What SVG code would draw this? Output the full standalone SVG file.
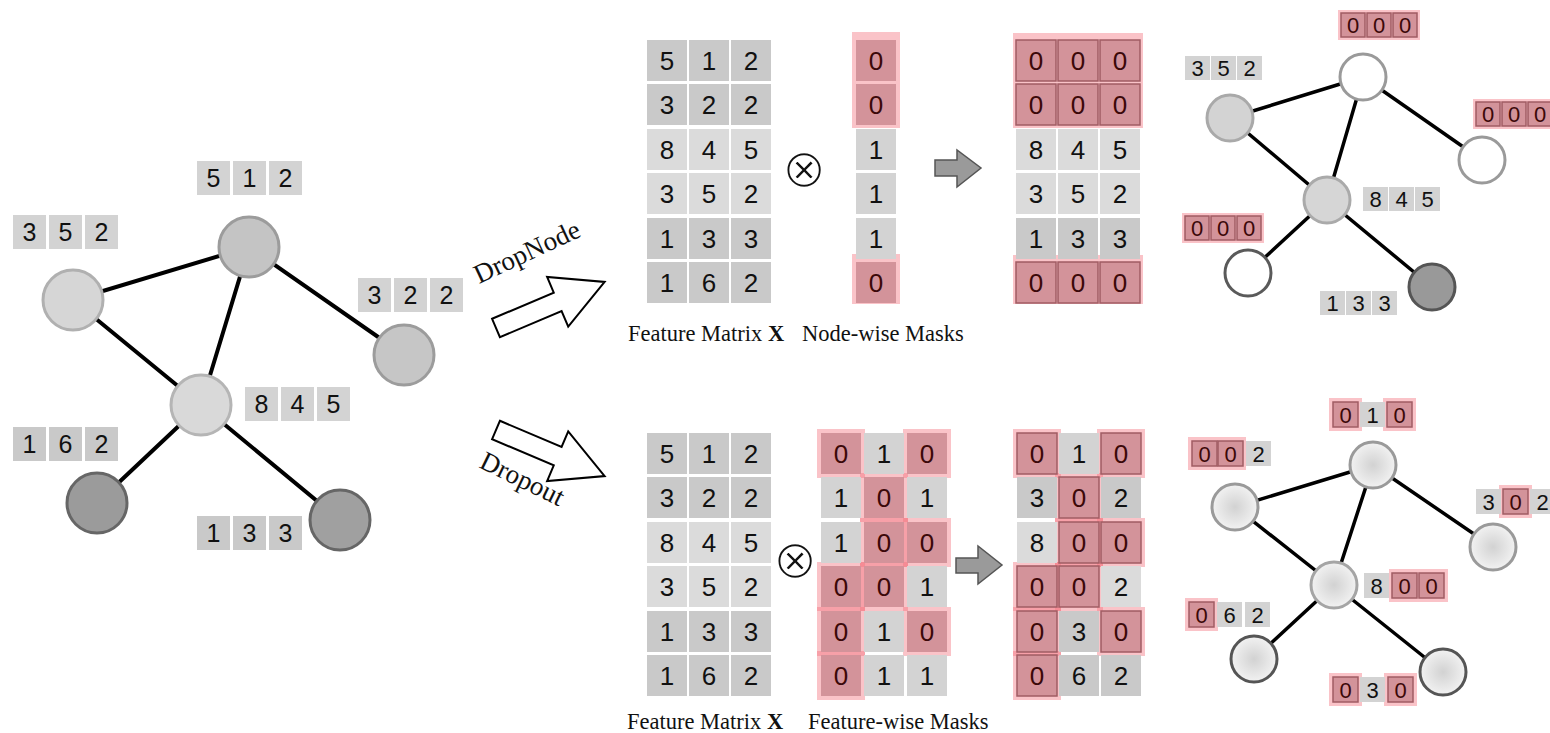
<svg xmlns="http://www.w3.org/2000/svg" width="1550" height="733" viewBox="0 0 1550 733">
  <style>
    .c1{fill:#c9c9c9}
    .c2{fill:#dbdbdb}
    .c3{fill:#d3d3d3}
    .rm{fill:#d3939a}
    .ro{fill:#d3939a;stroke:#a05c63;stroke-width:1.5}
    .halo{fill:#f4707c;fill-opacity:.42}
    .t{font-family:"Liberation Sans",Arial,sans-serif;text-anchor:middle;dominant-baseline:central;fill:#111}
    .m{font-size:26px}
    .L{font-size:25px}
    .s{font-size:22px}
    .z{fill:#3b0808}
    .edge{stroke:#000;stroke-width:4;stroke-linecap:round}
    .edge2{stroke:#000;stroke-width:3.5;stroke-linecap:round}
    .cap{font-family:"Liberation Serif","Times New Roman",serif;font-size:22.5px;fill:#111}
    .big{font-family:"Liberation Serif","Times New Roman",serif;font-size:27px;fill:#111}
    .hollow{fill:#fff;stroke:#000;stroke-width:2;stroke-linejoin:miter}
    .step{fill:#9a9a9a;stroke:#555;stroke-width:1.5}
    .otimes{font-family:"DejaVu Sans",sans-serif;font-size:54px;text-anchor:middle;dominant-baseline:central;fill:#111;stroke:#fff;stroke-width:2}
  </style>
  <defs>
    <radialGradient id="soft" cx="50%" cy="50%" r="50%">
      <stop offset="0" stop-color="#d2d2d2"/>
      <stop offset="1" stop-color="#f2f2f2"/>
    </radialGradient>
    <polygon id="bigArrow" points="0,-10 67,-10 67,-27 118,0 67,27 67,10 0,10"/>
  </defs>
  <rect width="1550" height="733" fill="#fff"/>

  <!-- ===== input graph ===== -->
  <g id="edges-in">
    <line class="edge" x1="73" y1="300" x2="249" y2="247"/>
    <line class="edge" x1="73" y1="300" x2="201" y2="405"/>
    <line class="edge" x1="249" y1="247" x2="201" y2="405"/>
    <line class="edge" x1="249" y1="247" x2="404" y2="355"/>
    <line class="edge" x1="201" y1="405" x2="97" y2="503"/>
    <line class="edge" x1="201" y1="405" x2="340" y2="520"/>
  </g>
  <g id="in-n1"><circle cx="73" cy="300" r="30" fill="#d6d6d6" stroke="#b0b0b0" stroke-width="3"/></g>
  <g id="in-n2"><circle cx="249" cy="247" r="30" fill="#c4c4c4" stroke="#9c9c9c" stroke-width="3"/></g>
  <g id="in-n3"><circle cx="404" cy="355" r="30" fill="#c6c6c6" stroke="#9c9c9c" stroke-width="3"/></g>
  <g id="in-n4"><circle cx="201" cy="405" r="30" fill="#d9d9d9" stroke="#b5b5b5" stroke-width="3"/></g>
  <g id="in-n5"><circle cx="97" cy="503" r="30" fill="#9b9b9b" stroke="#666" stroke-width="3"/></g>
  <g id="in-n6"><circle cx="340" cy="520" r="30" fill="#a0a0a0" stroke="#666" stroke-width="3"/></g>

  <g id="in-feat-1" transform="translate(197,161)">
    <rect class="c3" x="0" width="33" height="34"/><rect class="c3" x="36" width="33" height="34"/><rect class="c3" x="72" width="33" height="34"/>
    <text class="t L" x="16.5" y="17">5</text><text class="t L" x="52.5" y="17">1</text><text class="t L" x="88.5" y="17">2</text>
  </g>
  <g id="in-feat-2" transform="translate(13,215)">
    <rect class="c3" x="0" width="33" height="34"/><rect class="c3" x="36" width="33" height="34"/><rect class="c3" x="72" width="33" height="34"/>
    <text class="t L" x="16.5" y="17">3</text><text class="t L" x="52.5" y="17">5</text><text class="t L" x="88.5" y="17">2</text>
  </g>
  <g id="in-feat-3" transform="translate(358,278)">
    <rect class="c3" x="0" width="33" height="34"/><rect class="c3" x="36" width="33" height="34"/><rect class="c3" x="72" width="33" height="34"/>
    <text class="t L" x="16.5" y="17">3</text><text class="t L" x="52.5" y="17">2</text><text class="t L" x="88.5" y="17">2</text>
  </g>
  <g id="in-feat-4" transform="translate(245,387)">
    <rect class="c3" x="0" width="33" height="34"/><rect class="c3" x="36" width="33" height="34"/><rect class="c3" x="72" width="33" height="34"/>
    <text class="t L" x="16.5" y="17">8</text><text class="t L" x="52.5" y="17">4</text><text class="t L" x="88.5" y="17">5</text>
  </g>
  <g id="in-feat-5" transform="translate(13,427)">
    <rect class="c1" x="0" width="33" height="34"/><rect class="c1" x="36" width="33" height="34"/><rect class="c1" x="72" width="33" height="34"/>
    <text class="t L" x="16.5" y="17">1</text><text class="t L" x="52.5" y="17">6</text><text class="t L" x="88.5" y="17">2</text>
  </g>
  <g id="in-feat-6" transform="translate(197,516)">
    <rect class="c1" x="0" width="33" height="34"/><rect class="c1" x="36" width="33" height="34"/><rect class="c1" x="72" width="33" height="34"/>
    <text class="t L" x="16.5" y="17">1</text><text class="t L" x="52.5" y="17">3</text><text class="t L" x="88.5" y="17">3</text>
  </g>

  <!-- ===== branch arrows ===== -->
  <g id="arrow-dropnode">
    <use href="#bigArrow" class="hollow" transform="translate(496,328) rotate(-23)"/>
    <text class="big" transform="translate(479,284) rotate(-25)">DropNode</text>
  </g>
  <g id="arrow-dropout">
    <use href="#bigArrow" class="hollow" transform="translate(496,430) rotate(23)"/>
    <text class="big" transform="translate(478,467) rotate(26)">Dropout</text>
  </g>

  <!-- ===== DropNode row ===== -->
  <g id="top-feature-matrix" transform="translate(647,40)">
    <rect class="c1" x="0" y="0" width="40" height="41"/><rect class="c1" x="42" y="0" width="40" height="41"/><rect class="c1" x="84" y="0" width="40" height="41"/>
    <rect class="c1" x="0" y="44" width="40" height="41"/><rect class="c1" x="42" y="44" width="40" height="41"/><rect class="c1" x="84" y="44" width="40" height="41"/>
    <rect class="c2" x="0" y="89" width="40" height="41"/><rect class="c2" x="42" y="89" width="40" height="41"/><rect class="c2" x="84" y="89" width="40" height="41"/>
    <rect class="c2" x="0" y="133" width="40" height="41"/><rect class="c2" x="42" y="133" width="40" height="41"/><rect class="c2" x="84" y="133" width="40" height="41"/>
    <rect class="c1" x="0" y="178" width="40" height="41"/><rect class="c1" x="42" y="178" width="40" height="41"/><rect class="c1" x="84" y="178" width="40" height="41"/>
    <rect class="c1" x="0" y="222" width="40" height="41"/><rect class="c1" x="42" y="222" width="40" height="41"/><rect class="c1" x="84" y="222" width="40" height="41"/>
    <text class="t m" x="20" y="21">5</text><text class="t m" x="62" y="21">1</text><text class="t m" x="104" y="21">2</text>
    <text class="t m" x="20" y="65">3</text><text class="t m" x="62" y="65">2</text><text class="t m" x="104" y="65">2</text>
    <text class="t m" x="20" y="110">8</text><text class="t m" x="62" y="110">4</text><text class="t m" x="104" y="110">5</text>
    <text class="t m" x="20" y="154">3</text><text class="t m" x="62" y="154">5</text><text class="t m" x="104" y="154">2</text>
    <text class="t m" x="20" y="199">1</text><text class="t m" x="62" y="199">3</text><text class="t m" x="104" y="199">3</text>
    <text class="t m" x="20" y="243">1</text><text class="t m" x="62" y="243">6</text><text class="t m" x="104" y="243">2</text>
  </g>
  <g id="top-otimes"><text class="otimes" x="804" y="168">⊗</text></g>
  <g id="node-mask" transform="translate(856,40)">
    <rect class="halo" x="-4" y="-8" width="48" height="96"/>
    <rect class="halo" x="-4" y="214" width="48" height="50"/>
    <rect class="rm" x="0" y="0" width="40" height="41"/>
    <rect class="rm" x="0" y="44" width="40" height="41"/>
    <rect class="c3" x="0" y="89" width="40" height="41"/>
    <rect class="c3" x="0" y="133" width="40" height="41"/>
    <rect class="c3" x="0" y="178" width="40" height="41"/>
    <rect class="rm" x="0" y="222" width="40" height="41"/>
    <text class="t m z" x="20" y="21">0</text>
    <text class="t m z" x="20" y="65">0</text>
    <text class="t m" x="20" y="110">1</text>
    <text class="t m" x="20" y="154">1</text>
    <text class="t m" x="20" y="199">1</text>
    <text class="t m z" x="20" y="243">0</text>
  </g>
  <g id="top-step"><polygon class="step" points="935,160 957,160 957,150 981,168 957,187 957,176 935,176"/></g>
  <g id="top-result" transform="translate(1016,40)">
    <rect class="halo" x="-3" y="-7" width="130" height="95"/>
    <rect class="halo" x="-3" y="215" width="130" height="49"/>
    <rect class="ro" x="0" y="0" width="40" height="41"/><rect class="ro" x="42" y="0" width="40" height="41"/><rect class="ro" x="84" y="0" width="40" height="41"/>
    <rect class="ro" x="0" y="44" width="40" height="41"/><rect class="ro" x="42" y="44" width="40" height="41"/><rect class="ro" x="84" y="44" width="40" height="41"/>
    <rect class="c2" x="0" y="89" width="40" height="41"/><rect class="c2" x="42" y="89" width="40" height="41"/><rect class="c2" x="84" y="89" width="40" height="41"/>
    <rect class="c2" x="0" y="133" width="40" height="41"/><rect class="c2" x="42" y="133" width="40" height="41"/><rect class="c2" x="84" y="133" width="40" height="41"/>
    <rect class="c1" x="0" y="178" width="40" height="41"/><rect class="c1" x="42" y="178" width="40" height="41"/><rect class="c1" x="84" y="178" width="40" height="41"/>
    <rect class="ro" x="0" y="222" width="40" height="41"/><rect class="ro" x="42" y="222" width="40" height="41"/><rect class="ro" x="84" y="222" width="40" height="41"/>
    <text class="t m z" x="20" y="21">0</text><text class="t m z" x="62" y="21">0</text><text class="t m z" x="104" y="21">0</text>
    <text class="t m z" x="20" y="65">0</text><text class="t m z" x="62" y="65">0</text><text class="t m z" x="104" y="65">0</text>
    <text class="t m" x="20" y="110">8</text><text class="t m" x="62" y="110">4</text><text class="t m" x="104" y="110">5</text>
    <text class="t m" x="20" y="154">3</text><text class="t m" x="62" y="154">5</text><text class="t m" x="104" y="154">2</text>
    <text class="t m" x="20" y="199">1</text><text class="t m" x="62" y="199">3</text><text class="t m" x="104" y="199">3</text>
    <text class="t m z" x="20" y="243">0</text><text class="t m z" x="62" y="243">0</text><text class="t m z" x="104" y="243">0</text>
  </g>
  <g id="top-captions">
    <text class="cap" x="628" y="341">Feature Matrix <tspan font-weight="bold">X</tspan></text>
    <text class="cap" x="802" y="341">Node-wise Masks</text>
  </g>

  <!-- DropNode output graph -->
  <g id="edges-dropnode">
    <line class="edge2" x1="1230" y1="118" x2="1363" y2="77"/>
    <line class="edge2" x1="1230" y1="118" x2="1327" y2="200"/>
    <line class="edge2" x1="1363" y1="77" x2="1327" y2="200"/>
    <line class="edge2" x1="1363" y1="77" x2="1482" y2="160"/>
    <line class="edge2" x1="1327" y1="200" x2="1248" y2="273"/>
    <line class="edge2" x1="1327" y1="200" x2="1432" y2="287"/>
  </g>
  <g id="dn-n1"><circle cx="1230" cy="118" r="23" fill="#d3d3d3" stroke="#a9a9a9" stroke-width="3"/></g>
  <g id="dn-n2"><circle cx="1363" cy="77" r="23" fill="#fff" stroke="#9a9a9a" stroke-width="3"/></g>
  <g id="dn-n3"><circle cx="1482" cy="160" r="23" fill="#fff" stroke="#9a9a9a" stroke-width="3"/></g>
  <g id="dn-n4"><circle cx="1327" cy="200" r="23" fill="#d6d6d6" stroke="#aaa" stroke-width="3"/></g>
  <g id="dn-n5"><circle cx="1248" cy="273" r="23" fill="#fff" stroke="#5a5a5a" stroke-width="3"/></g>
  <g id="dn-n6"><circle cx="1432" cy="287" r="23" fill="#999" stroke="#555" stroke-width="3"/></g>

  <g id="dn-feat-1" transform="translate(1341,13)">
    <rect class="halo" x="-3" y="-3" width="82" height="30"/>
    <rect class="ro" x="0" width="24" height="24"/><rect class="ro" x="26" width="24" height="24"/><rect class="ro" x="52" width="24" height="24"/>
    <text class="t s z" x="12" y="12.5">0</text><text class="t s z" x="38" y="12.5">0</text><text class="t s z" x="64" y="12.5">0</text>
  </g>
  <g id="dn-feat-2" transform="translate(1185,56)">
    <rect class="c3" x="0" width="25" height="24"/><rect class="c3" x="26" width="25" height="24"/><rect class="c3" x="52" width="25" height="24"/>
    <text class="t s" x="12.5" y="12.5">3</text><text class="t s" x="38.5" y="12.5">5</text><text class="t s" x="64.5" y="12.5">2</text>
  </g>
  <g id="dn-feat-3" transform="translate(1476,102)">
    <rect class="halo" x="-3" y="-3" width="82" height="30"/>
    <rect class="ro" x="0" width="24" height="24"/><rect class="ro" x="26" width="24" height="24"/><rect class="ro" x="52" width="24" height="24"/>
    <text class="t s z" x="12" y="12.5">0</text><text class="t s z" x="38" y="12.5">0</text><text class="t s z" x="64" y="12.5">0</text>
  </g>
  <g id="dn-feat-4" transform="translate(1363,187)">
    <rect class="c3" x="0" width="25" height="24"/><rect class="c3" x="26" width="25" height="24"/><rect class="c3" x="52" width="25" height="24"/>
    <text class="t s" x="12.5" y="12.5">8</text><text class="t s" x="38.5" y="12.5">4</text><text class="t s" x="64.5" y="12.5">5</text>
  </g>
  <g id="dn-feat-5" transform="translate(1185,216)">
    <rect class="halo" x="-3" y="-3" width="82" height="30"/>
    <rect class="ro" x="0" width="24" height="24"/><rect class="ro" x="26" width="24" height="24"/><rect class="ro" x="52" width="24" height="24"/>
    <text class="t s z" x="12" y="12.5">0</text><text class="t s z" x="38" y="12.5">0</text><text class="t s z" x="64" y="12.5">0</text>
  </g>
  <g id="dn-feat-6" transform="translate(1320,291)">
    <rect class="c3" x="0" width="25" height="24"/><rect class="c3" x="26" width="25" height="24"/><rect class="c3" x="52" width="25" height="24"/>
    <text class="t s" x="12.5" y="12.5">1</text><text class="t s" x="38.5" y="12.5">3</text><text class="t s" x="64.5" y="12.5">3</text>
  </g>

  <!-- ===== Dropout row ===== -->
  <g id="bottom-feature-matrix" transform="translate(647,433)">
    <rect class="c1" x="0" y="0" width="40" height="41"/><rect class="c1" x="42" y="0" width="40" height="41"/><rect class="c1" x="84" y="0" width="40" height="41"/>
    <rect class="c1" x="0" y="44" width="40" height="41"/><rect class="c1" x="42" y="44" width="40" height="41"/><rect class="c1" x="84" y="44" width="40" height="41"/>
    <rect class="c2" x="0" y="89" width="40" height="41"/><rect class="c2" x="42" y="89" width="40" height="41"/><rect class="c2" x="84" y="89" width="40" height="41"/>
    <rect class="c2" x="0" y="133" width="40" height="41"/><rect class="c2" x="42" y="133" width="40" height="41"/><rect class="c2" x="84" y="133" width="40" height="41"/>
    <rect class="c1" x="0" y="178" width="40" height="41"/><rect class="c1" x="42" y="178" width="40" height="41"/><rect class="c1" x="84" y="178" width="40" height="41"/>
    <rect class="c1" x="0" y="222" width="40" height="41"/><rect class="c1" x="42" y="222" width="40" height="41"/><rect class="c1" x="84" y="222" width="40" height="41"/>
    <text class="t m" x="20" y="21">5</text><text class="t m" x="62" y="21">1</text><text class="t m" x="104" y="21">2</text>
    <text class="t m" x="20" y="65">3</text><text class="t m" x="62" y="65">2</text><text class="t m" x="104" y="65">2</text>
    <text class="t m" x="20" y="110">8</text><text class="t m" x="62" y="110">4</text><text class="t m" x="104" y="110">5</text>
    <text class="t m" x="20" y="154">3</text><text class="t m" x="62" y="154">5</text><text class="t m" x="104" y="154">2</text>
    <text class="t m" x="20" y="199">1</text><text class="t m" x="62" y="199">3</text><text class="t m" x="104" y="199">3</text>
    <text class="t m" x="20" y="243">1</text><text class="t m" x="62" y="243">6</text><text class="t m" x="104" y="243">2</text>
  </g>
  <g id="bottom-otimes"><text class="otimes" x="795" y="559">⊗</text></g>
  <g id="feature-mask" transform="translate(821,433)">
    <rect class="halo" x="-4" y="-4" width="48" height="49"/>
    <rect class="halo" x="82" y="-4" width="48" height="49"/>
    <rect class="halo" x="39" y="40" width="48" height="49"/>
    <rect class="halo" x="39" y="85" width="48" height="49"/>
    <rect class="halo" x="82" y="85" width="48" height="49"/>
    <rect class="halo" x="-4" y="129" width="48" height="49"/>
    <rect class="halo" x="39" y="129" width="48" height="49"/>
    <rect class="halo" x="-4" y="174" width="48" height="49"/>
    <rect class="halo" x="82" y="174" width="48" height="49"/>
    <rect class="halo" x="-4" y="218" width="48" height="49"/>
    <rect class="rm" x="0" y="0" width="40" height="41"/><rect class="c3" x="43" y="0" width="40" height="41"/><rect class="rm" x="86" y="0" width="40" height="41"/>
    <rect class="c3" x="0" y="44" width="40" height="41"/><rect class="rm" x="43" y="44" width="40" height="41"/><rect class="c3" x="86" y="44" width="40" height="41"/>
    <rect class="c3" x="0" y="89" width="40" height="41"/><rect class="rm" x="43" y="89" width="40" height="41"/><rect class="rm" x="86" y="89" width="40" height="41"/>
    <rect class="rm" x="0" y="133" width="40" height="41"/><rect class="rm" x="43" y="133" width="40" height="41"/><rect class="c3" x="86" y="133" width="40" height="41"/>
    <rect class="rm" x="0" y="178" width="40" height="41"/><rect class="c3" x="43" y="178" width="40" height="41"/><rect class="rm" x="86" y="178" width="40" height="41"/>
    <rect class="rm" x="0" y="222" width="40" height="41"/><rect class="c3" x="43" y="222" width="40" height="41"/><rect class="c3" x="86" y="222" width="40" height="41"/>
    <text class="t m z" x="20" y="21">0</text><text class="t m" x="63" y="21">1</text><text class="t m z" x="106" y="21">0</text>
    <text class="t m" x="20" y="65">1</text><text class="t m z" x="63" y="65">0</text><text class="t m" x="106" y="65">1</text>
    <text class="t m" x="20" y="110">1</text><text class="t m z" x="63" y="110">0</text><text class="t m z" x="106" y="110">0</text>
    <text class="t m z" x="20" y="154">0</text><text class="t m z" x="63" y="154">0</text><text class="t m" x="106" y="154" fill="#444">1</text>
    <text class="t m z" x="20" y="199">0</text><text class="t m" x="63" y="199">1</text><text class="t m z" x="106" y="199">0</text>
    <text class="t m z" x="20" y="243">0</text><text class="t m" x="63" y="243">1</text><text class="t m" x="106" y="243">1</text>
  </g>
  <g id="bottom-step"><polygon class="step" points="956,558 978,558 978,546 1002,565 978,584 978,573 956,573"/></g>
  <g id="bottom-result" transform="translate(1017,433)">
    <rect class="halo" x="-4" y="-4" width="48" height="49"/>
    <rect class="halo" x="80" y="-4" width="48" height="49"/>
    <rect class="halo" x="38" y="40" width="48" height="49"/>
    <rect class="halo" x="38" y="85" width="48" height="49"/>
    <rect class="halo" x="80" y="85" width="48" height="49"/>
    <rect class="halo" x="-4" y="129" width="48" height="49"/>
    <rect class="halo" x="38" y="129" width="48" height="49"/>
    <rect class="halo" x="-4" y="174" width="48" height="49"/>
    <rect class="halo" x="80" y="174" width="48" height="49"/>
    <rect class="halo" x="-4" y="218" width="48" height="49"/>
    <rect class="ro" x="0" y="0" width="40" height="41"/><rect class="c3" x="42" y="0" width="40" height="41"/><rect class="ro" x="84" y="0" width="40" height="41"/>
    <rect class="c1" x="0" y="44" width="40" height="41"/><rect class="ro" x="42" y="44" width="40" height="41"/><rect class="c1" x="84" y="44" width="40" height="41"/>
    <rect class="c2" x="0" y="89" width="40" height="41"/><rect class="ro" x="42" y="89" width="40" height="41"/><rect class="ro" x="84" y="89" width="40" height="41"/>
    <rect class="ro" x="0" y="133" width="40" height="41"/><rect class="ro" x="42" y="133" width="40" height="41"/><rect class="c2" x="84" y="133" width="40" height="41"/>
    <rect class="ro" x="0" y="178" width="40" height="41"/><rect class="c1" x="42" y="178" width="40" height="41"/><rect class="ro" x="84" y="178" width="40" height="41"/>
    <rect class="ro" x="0" y="222" width="40" height="41"/><rect class="c1" x="42" y="222" width="40" height="41"/><rect class="c1" x="84" y="222" width="40" height="41"/>
    <text class="t m z" x="20" y="21">0</text><text class="t m" x="62" y="21">1</text><text class="t m z" x="104" y="21">0</text>
    <text class="t m" x="20" y="65">3</text><text class="t m z" x="62" y="65">0</text><text class="t m" x="104" y="65">2</text>
    <text class="t m" x="20" y="110">8</text><text class="t m z" x="62" y="110">0</text><text class="t m z" x="104" y="110">0</text>
    <text class="t m z" x="20" y="154">0</text><text class="t m z" x="62" y="154">0</text><text class="t m" x="104" y="154">2</text>
    <text class="t m z" x="20" y="199">0</text><text class="t m" x="62" y="199">3</text><text class="t m z" x="104" y="199">0</text>
    <text class="t m z" x="20" y="243">0</text><text class="t m" x="62" y="243">6</text><text class="t m" x="104" y="243">2</text>
  </g>
  <g id="bottom-captions">
    <text class="cap" x="627" y="729">Feature Matrix <tspan font-weight="bold">X</tspan></text>
    <text class="cap" x="808" y="729">Feature-wise Masks</text>
  </g>

  <!-- Dropout output graph -->
  <g id="edges-dropout">
    <line class="edge2" x1="1235" y1="507" x2="1373" y2="465"/>
    <line class="edge2" x1="1235" y1="507" x2="1334" y2="585"/>
    <line class="edge2" x1="1373" y1="465" x2="1334" y2="585"/>
    <line class="edge2" x1="1373" y1="465" x2="1493" y2="547"/>
    <line class="edge2" x1="1334" y1="585" x2="1254" y2="659"/>
    <line class="edge2" x1="1334" y1="585" x2="1443" y2="672"/>
  </g>
  <g id="do-n1"><circle cx="1235" cy="507" r="23" fill="url(#soft)" stroke="#9a9a9a" stroke-width="3"/></g>
  <g id="do-n2"><circle cx="1373" cy="465" r="23" fill="url(#soft)" stroke="#9a9a9a" stroke-width="3"/></g>
  <g id="do-n3"><circle cx="1493" cy="547" r="23" fill="url(#soft)" stroke="#9a9a9a" stroke-width="3"/></g>
  <g id="do-n4"><circle cx="1334" cy="585" r="23" fill="url(#soft)" stroke="#a5a5a5" stroke-width="3"/></g>
  <g id="do-n5"><circle cx="1254" cy="659" r="23" fill="url(#soft)" stroke="#555" stroke-width="3"/></g>
  <g id="do-n6"><circle cx="1443" cy="672" r="23" fill="url(#soft)" stroke="#555" stroke-width="3"/></g>

  <g id="do-feat-1" transform="translate(1333,402)">
    <rect class="halo" x="-4" y="-4" width="33" height="33"/>
    <rect class="halo" x="50" y="-4" width="33" height="33"/>
    <rect class="ro" x="0" width="25" height="25"/><rect class="c3" x="27" width="25" height="25"/><rect class="ro" x="54" width="25" height="25"/>
    <text class="t s z" x="12.5" y="13">0</text><text class="t s" x="39.5" y="13">1</text><text class="t s z" x="66.5" y="13">0</text>
  </g>
  <g id="do-feat-2" transform="translate(1192,441)">
    <rect class="halo" x="-4" y="-4" width="58" height="33"/>
    <rect class="ro" x="0" width="25" height="25"/><rect class="ro" x="26" width="25" height="25"/><rect class="c3" x="54" width="25" height="25"/>
    <text class="t s z" x="12.5" y="13">0</text><text class="t s z" x="38.5" y="13">0</text><text class="t s" x="66.5" y="13">2</text>
  </g>
  <g id="do-feat-3" transform="translate(1476,489)">
    <rect class="halo" x="23" y="-4" width="33" height="33"/>
    <rect class="c3" x="0" width="25" height="25"/><rect class="ro" x="27" width="25" height="25"/><rect class="c3" x="54" width="25" height="25"/>
    <text class="t s" x="12.5" y="13">3</text><text class="t s z" x="39.5" y="13">0</text><text class="t s" x="66.5" y="13">2</text>
  </g>
  <g id="do-feat-4" transform="translate(1364,573)">
    <rect class="halo" x="25" y="-4" width="59" height="33"/>
    <rect class="c3" x="0" width="25" height="25"/><rect class="ro" x="28" width="25" height="25"/><rect class="ro" x="55" width="25" height="25"/>
    <text class="t s" x="12.5" y="13">8</text><text class="t s z" x="40.5" y="13">0</text><text class="t s z" x="67.5" y="13">0</text>
  </g>
  <g id="do-feat-5" transform="translate(1189,602)">
    <rect class="halo" x="-4" y="-4" width="33" height="33"/>
    <rect class="ro" x="0" width="25" height="25"/><rect class="c3" x="28" width="25" height="25"/><rect class="c3" x="56" width="25" height="25"/>
    <text class="t s z" x="12.5" y="13">0</text><text class="t s" x="40.5" y="13">6</text><text class="t s" x="68.5" y="13">2</text>
  </g>
  <g id="do-feat-6" transform="translate(1333,677)">
    <rect class="halo" x="-4" y="-4" width="33" height="33"/>
    <rect class="halo" x="51" y="-4" width="33" height="33"/>
    <rect class="ro" x="0" width="25" height="25"/><rect class="c3" x="27" width="25" height="25"/><rect class="ro" x="55" width="25" height="25"/>
    <text class="t s z" x="12.5" y="13">0</text><text class="t s" x="39.5" y="13">3</text><text class="t s z" x="67.5" y="13">0</text>
  </g>
</svg>
